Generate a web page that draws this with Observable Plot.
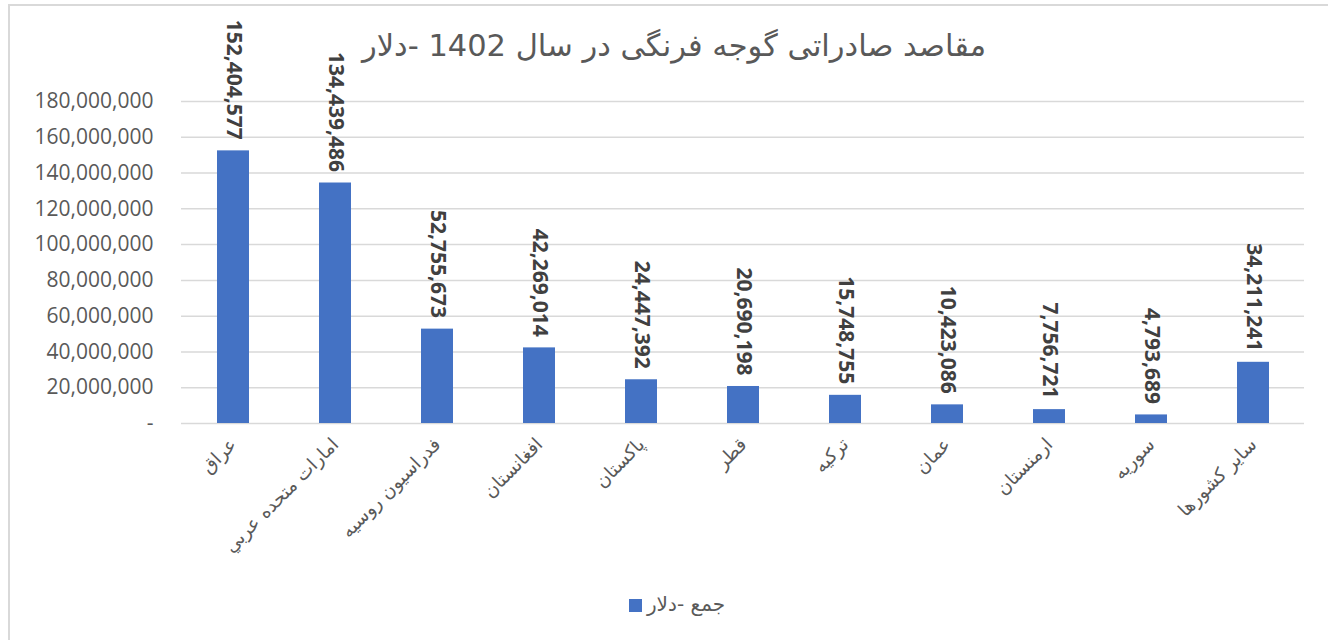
<!DOCTYPE html>
<html>
<head>
<meta charset="utf-8">
<script src="https://cdn.jsdelivr.net/npm/d3@7"></script>
<script src="https://cdn.jsdelivr.net/npm/@observablehq/plot@0.6"></script>
<style>
  html, body { margin: 0; padding: 0; background: #fff; overflow: hidden; }
  #wrap { position: relative; width: 1328px; height: 640px; }
  #frame { position: absolute; left: 8px; top: 4px; width: 1340px; height: 660px; border: 2px solid #d9d9d9; box-sizing: border-box; pointer-events: none; }
  #title { position: absolute; left: 20px; width: 1308px; top: 28px; text-align: center; font-family: "DejaVu Sans", "Liberation Sans", sans-serif; font-size: 30.5px; color: #595959; }
  #legend { position: absolute; left: 26px; width: 1302px; top: 592px; text-align: center; font-family: "DejaVu Sans", sans-serif; font-size: 20px; color: #595959; }
  #legend .sw { display: inline-block; width: 13px; height: 13px; background: #4472C4; vertical-align: middle; margin-right: 5px; }
  #chart { position: absolute; left: 0; top: 0; }
</style>
</head>
<body>
<div id="wrap">
  <div id="chart"></div>
  <div id="title">مقاصد صادراتی گوجه فرنگی در سال 1402 -دلار</div>
  <div id="legend"><span class="sw"></span><span dir="rtl">جمع -دلار</span></div>
  <div id="frame"></div>
</div>
<script>
const countries = ["عراق", "امارات متحده عربي", "فدراسیون روسیه", "افغانستان", "پاکستان", "قطر", "ترکیه", "عمان", "ارمنستان", "سوریه", "سایر کشورها"];
const values = [152404577, 134439486, 52755673, 42269014, 24447392, 20690198, 15748755, 10423086, 7756721, 4793689, 34211241];
const yTicks = [0, 20000000, 40000000, 60000000, 80000000, 100000000, 120000000, 140000000, 160000000, 180000000];
const seriesName = "جمع -دلار";

const data = countries.map((c, i) => ({country: c, value: values[i]}));
const fmt = d3.format(",");

const chart = Plot.plot({
  width: 1328,
  height: 640,
  marginTop: 101,
  marginBottom: 217,
  marginLeft: 181,
  marginRight: 24,
  style: {background: "transparent", overflow: "visible"},
  x: {domain: countries, paddingInner: 0.69, paddingOuter: 0.345, label: null},
  y: {domain: [0, 180000000], label: null},
  marks: [
    Plot.ruleY(yTicks, {stroke: "#d9d9d9", strokeWidth: 1.5}),
    Plot.barY(data, {x: "country", y: "value", fill: "#4472C4"}),
    Plot.text(data, {
      x: "country", y: "value", text: d => fmt(d.value),
      rotate: 90, textAnchor: "end", dy: -11,
      fontFamily: "Open Sans, Lato, sans-serif", fontWeight: "bold", fontSize: 21, fill: "#404040"
    }),
    Plot.axisY({
      ticks: yTicks, tickSize: 0, tickPadding: 28,
      tickFormat: d => d === 0 ? "-" : fmt(d),
      fontFamily: "Open Sans, Lato, sans-serif", fontSize: 21, fill: "#595959", label: null
    }),
    Plot.axisX({
      tickSize: 0, tickPadding: 18, tickRotate: -45, textAnchor: "end",
      fontFamily: "DejaVu Sans, sans-serif", fontSize: 18.5, fill: "#595959", label: null
    })
  ]
});
document.getElementById("chart").appendChild(chart);
</script>
</body>
</html>
